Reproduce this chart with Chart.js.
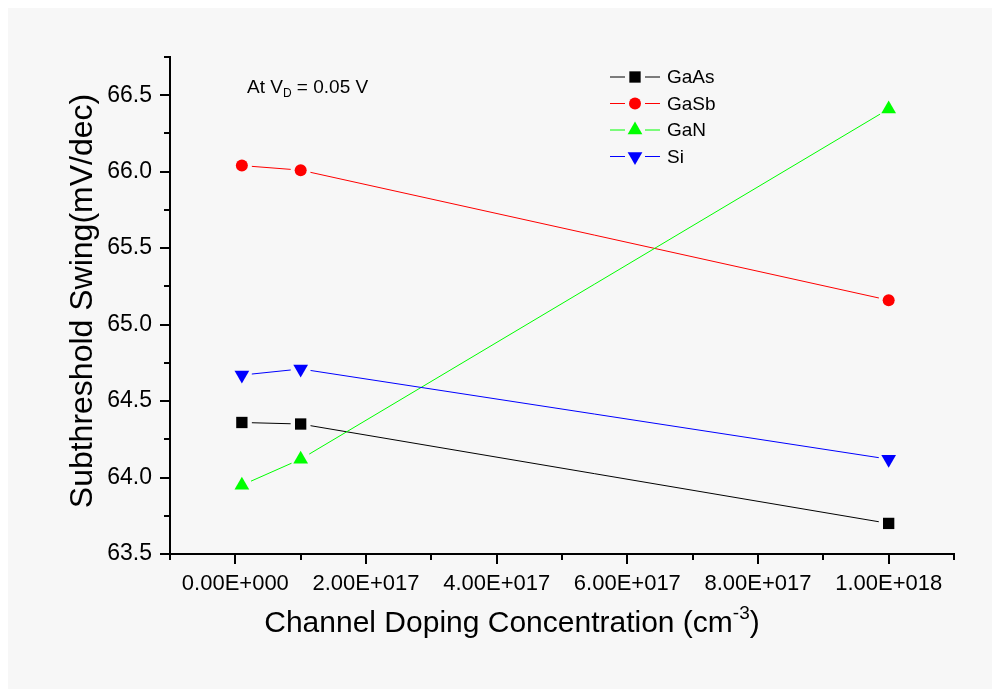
<!DOCTYPE html>
<html>
<head>
<meta charset="utf-8">
<script src="https://cdn.jsdelivr.net/npm/chart.js@4"></script>
<style>
  html, body { margin: 0; padding: 0; background: #ffffff; }
  #wrap { width: 992px; height: 689px; }
</style>
</head>
<body>
<div id="wrap"><canvas id="c" width="992" height="689"></canvas></div>
<script>
// Channel doping (cm^-3) at which each device was simulated
const dopingLevels = [1e16, 1e17, 1e18];

// Subthreshold swing (mV/dec) per channel material
const gaAsSwing = [64.36, 64.35, 63.70];
const gaSbSwing = [66.04, 66.01, 65.16];
const gaNSwing  = [63.95, 64.12, 66.41];
const siSwing   = [64.67, 64.71, 64.12];

const seriesNames = ['GaAs', 'GaSb', 'GaN', 'Si'];

// Axis ticks
const xMajorTicks = [0, 2e17, 4e17, 6e17, 8e17, 1e18];
const xTickLabels = ['0.00E+000', '2.00E+017', '4.00E+017', '6.00E+017', '8.00E+017', '1.00E+018'];
const xMinorTicks = [-1e17, 1e17, 3e17, 5e17, 7e17, 9e17, 1.1e18];
const yMajorTicks = [63.5, 64.0, 64.5, 65.0, 65.5, 66.0, 66.5];
const yTickLabels = ['63.5', '64.0', '64.5', '65.0', '65.5', '66.0', '66.5'];
const yMinorTicks = [63.75, 64.25, 64.75, 65.25, 65.75, 66.25, 66.75];

const FONT = '"Liberation Sans", Arial, Helvetica, sans-serif';

const styles = [
  { color: '#000000', pointStyle: 'rect',     radius: 8,   rotation: 0 },
  { color: '#ff0000', pointStyle: 'circle',   radius: 6,   rotation: 0 },
  { color: '#00ff00', pointStyle: 'triangle', radius: 8.5, rotation: 0 },
  { color: '#0000ff', pointStyle: 'triangle', radius: 8.5, rotation: 180 }
];

const seriesValues = [gaAsSwing, gaSbSwing, gaNSwing, siSwing];

const datasets = seriesValues.map((vals, k) => ({
  label: seriesNames[k],
  data: dopingLevels.map((x, i) => ({ x: x, y: vals[i] })),
  showLine: false,
  borderColor: styles[k].color,
  backgroundColor: styles[k].color,
  pointBackgroundColor: styles[k].color,
  pointBorderColor: styles[k].color,
  pointBorderWidth: 0,
  pointStyle: styles[k].pointStyle,
  pointRadius: styles[k].radius,
  pointRotation: styles[k].rotation,
  pointHoverRadius: styles[k].radius
}));

// Panel background
const backgroundPlugin = {
  id: 'panelBackground',
  beforeDraw(chart) {
    const ctx = chart.ctx;
    ctx.save();
    ctx.fillStyle = '#ffffff';
    ctx.fillRect(0, 0, chart.width, chart.height);
    ctx.fillStyle = '#f7f7f7';
    ctx.fillRect(8, 8, chart.width - 8, chart.height - 8);
    ctx.restore();
  }
};

// Connecting lines that stop short of each marker
const GAP = 10;
const gappedLinesPlugin = {
  id: 'gappedLines',
  beforeDatasetsDraw(chart) {
    const ctx = chart.ctx;
    ctx.save();
    ctx.lineWidth = 1;
    chart.data.datasets.forEach((ds, k) => {
      const pts = chart.getDatasetMeta(k).data;
      ctx.strokeStyle = ds.borderColor;
      for (let i = 0; i < pts.length - 1; i++) {
        const a = pts[i], b = pts[i + 1];
        const dx = b.x - a.x, dy = b.y - a.y;
        const len = Math.hypot(dx, dy);
        if (len <= 2 * GAP) continue;
        const ux = dx / len, uy = dy / len;
        ctx.beginPath();
        ctx.moveTo(a.x + ux * GAP, a.y + uy * GAP);
        ctx.lineTo(b.x - ux * GAP, b.y - uy * GAP);
        ctx.stroke();
      }
    });
    ctx.restore();
  }
};

// Tick marks, axis titles, note and legend
const decorPlugin = {
  id: 'decor',
  afterDraw(chart) {
    const ctx = chart.ctx;
    const xs = chart.scales.x, ys = chart.scales.y;
    const area = chart.chartArea;
    ctx.save();
    ctx.strokeStyle = '#000';
    ctx.lineWidth = 2;
    ctx.beginPath();
    xMajorTicks.forEach(v => { const p = Math.round(xs.getPixelForValue(v)); ctx.moveTo(p, area.bottom); ctx.lineTo(p, area.bottom + 10); });
    xMinorTicks.forEach(v => { const p = Math.round(xs.getPixelForValue(v)); ctx.moveTo(p, area.bottom); ctx.lineTo(p, area.bottom + 6); });
    yMajorTicks.forEach(v => { const p = Math.round(ys.getPixelForValue(v)); ctx.moveTo(area.left, p); ctx.lineTo(area.left - 10, p); });
    yMinorTicks.forEach(v => { const p = Math.round(ys.getPixelForValue(v)); ctx.moveTo(area.left, p); ctx.lineTo(area.left - 6, p); });
    ctx.stroke();

    ctx.fillStyle = '#000';

    // Y axis title
    ctx.save();
    ctx.translate(83, 301);
    ctx.rotate(-Math.PI / 2);
    ctx.font = '32px ' + FONT;
    ctx.textAlign = 'center';
    ctx.textBaseline = 'middle';
    ctx.fillText('Subthreshold Swing(mV/dec)', 0, 0);
    ctx.restore();

    // X axis title with superscript
    const mainText = 'Channel Doping Concentration (cm';
    const supText = '-3';
    const endText = ')';
    ctx.textBaseline = 'alphabetic';
    ctx.textAlign = 'left';
    ctx.font = '30px ' + FONT;
    const w1 = ctx.measureText(mainText).width;
    const w3 = ctx.measureText(endText).width;
    ctx.font = '19px ' + FONT;
    const w2 = ctx.measureText(supText).width;
    const total = w1 + w2 + w3;
    let tx = 512 - total / 2;
    const baseY = 632;
    ctx.font = '30px ' + FONT;
    ctx.fillText(mainText, tx, baseY);
    tx += w1;
    ctx.font = '19px ' + FONT;
    ctx.fillText(supText, tx, baseY - 13);
    tx += w2;
    ctx.font = '30px ' + FONT;
    ctx.fillText(endText, tx, baseY);

    // Bias note
    ctx.font = '19px ' + FONT;
    let nx = 247;
    const ny = 93;
    ctx.fillText('At V', nx, ny);
    nx += ctx.measureText('At V').width;
    ctx.font = '12px ' + FONT;
    ctx.fillText('D', nx, ny + 4);
    nx += ctx.measureText('D').width;
    ctx.font = '19px ' + FONT;
    ctx.fillText(' = 0.05 V', nx, ny);

    // Legend
    const rowY = [77, 103.5, 130, 156.5];
    chart.data.datasets.forEach((ds, k) => {
      const y = rowY[k];
      ctx.strokeStyle = ds.borderColor;
      ctx.lineWidth = 1;
      ctx.beginPath();
      ctx.moveTo(610, y); ctx.lineTo(625, y);
      ctx.moveTo(645, y); ctx.lineTo(660, y);
      ctx.stroke();
      ctx.fillStyle = ds.backgroundColor;
      Chart.helpers.drawPoint(ctx, {
        pointStyle: ds.pointStyle,
        radius: ds.pointRadius,
        rotation: ds.pointRotation,
        borderWidth: 0
      }, 635, y);
      ctx.fillStyle = '#000';
      ctx.font = '19px ' + FONT;
      ctx.textBaseline = 'middle';
      ctx.textAlign = 'left';
      ctx.fillText(ds.label, 667, y + 1);
    });
    ctx.restore();
  }
};

new Chart(document.getElementById('c'), {
  type: 'scatter',
  data: { datasets: datasets },
  options: {
    responsive: false,
    animation: false,
    devicePixelRatio: 1,
    layout: { padding: { left: 0, top: 57, right: 38, bottom: 0 } },
    plugins: {
      legend: { display: false },
      tooltip: { enabled: false }
    },
    scales: {
      x: {
        type: 'linear',
        min: -1e17,
        max: 1.1e18,
        afterBuildTicks(scale) { scale.ticks = xMajorTicks.map(v => ({ value: v })); },
        afterFit(scale) { scale.height = 135; },
        grid: { display: true, drawOnChartArea: false, drawTicks: true, tickLength: 10, tickColor: 'rgba(0,0,0,0)' },
        border: { display: true, color: '#000', width: 2 },
        ticks: {
          autoSkip: false,
          maxRotation: 0,
          padding: 7,
          color: '#000',
          font: { family: FONT, size: 22 },
          callback: (v, i) => xTickLabels[i]
        }
      },
      y: {
        type: 'linear',
        min: 63.5,
        max: 66.75,
        afterBuildTicks(scale) { scale.ticks = yMajorTicks.map(v => ({ value: v })); },
        afterFit(scale) { scale.width = 170; },
        grid: { display: true, drawOnChartArea: false, drawTicks: true, tickLength: 10, tickColor: 'rgba(0,0,0,0)' },
        border: { display: true, color: '#000', width: 2 },
        ticks: {
          autoSkip: false,
          padding: 8,
          color: '#000',
          font: { family: FONT, size: 23 },
          callback: (v, i) => yTickLabels[i]
        }
      }
    }
  },
  plugins: [backgroundPlugin, gappedLinesPlugin, decorPlugin]
});
</script>
</body>
</html>
